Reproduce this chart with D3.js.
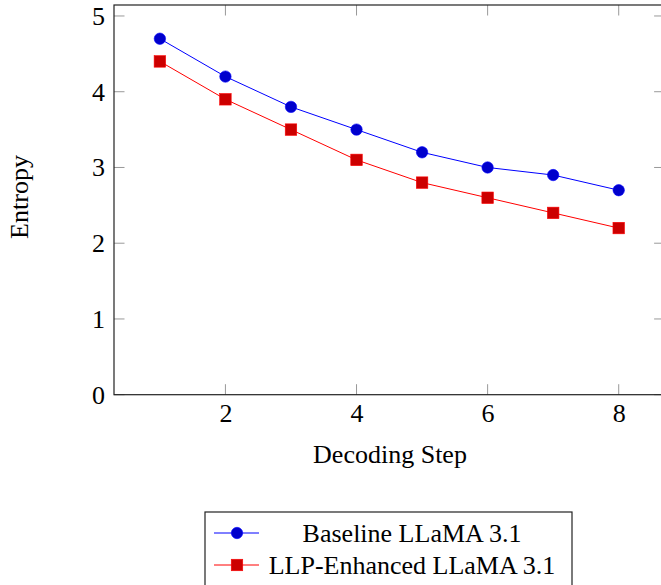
<!DOCTYPE html>
<html><head><meta charset="utf-8">
<script src="https://cdn.jsdelivr.net/npm/d3@7"></script>
<style>body{margin:0;background:#fff}svg{display:block}</style>
</head><body>
<script>
const steps = [1,2,3,4,5,6,7,8];
const baseline = [4.7,4.2,3.8,3.5,3.2,3.0,2.9,2.7];
const enhanced = [4.4,3.9,3.5,3.1,2.8,2.6,2.4,2.2];
const xTicks = [2,4,6,8];
const yTicks = [0,1,2,3,4,5];
const seriesNames = ["Baseline LLaMA 3.1","LLP-Enhanced LLaMA 3.1"];

const FF="Liberation Serif";
const FS=26;
const W=661,H=585;
const L=114,R=664.6,T=5,B=394.7;
const svg=d3.select("body").append("svg").attr("width",W).attr("height",H).attr("font-family",FF);
const x=d3.scaleLinear().domain([0.3,8.7]).range([L,R]);
const y=d3.scaleLinear().domain([0,5.145]).range([B,T]);
const tl=10.5;
const tc="#999";
const g=svg.append("g");
xTicks.forEach(v=>{
  g.append("line").attr("x1",x(v)).attr("x2",x(v)).attr("y1",B).attr("y2",B-tl).attr("stroke",tc).attr("stroke-width",1);
  g.append("line").attr("x1",x(v)).attr("x2",x(v)).attr("y1",T).attr("y2",T+tl).attr("stroke",tc).attr("stroke-width",1);
});
yTicks.forEach(v=>{
  g.append("line").attr("y1",y(v)).attr("y2",y(v)).attr("x1",L).attr("x2",L+tl).attr("stroke",tc).attr("stroke-width",1);
  g.append("line").attr("y1",y(v)).attr("y2",y(v)).attr("x1",R).attr("x2",R-tl).attr("stroke",tc).attr("stroke-width",1);
});
const xa=svg.append("g").attr("transform",`translate(0,${B})`).call(d3.axisBottom(x).tickValues(xTicks).tickSize(0).tickPadding(8.5).tickFormat(d3.format("d")));
xa.attr("font-family",FF).attr("font-size",FS);
xa.select(".domain").remove();
xa.selectAll("text").attr("fill","#000");
const ya=svg.append("g").attr("transform",`translate(${L},0)`).call(d3.axisLeft(y).tickValues(yTicks).tickSize(0).tickPadding(9).tickFormat(d3.format("d")));
ya.attr("font-family",FF).attr("font-size",FS);
ya.select(".domain").remove();
ya.selectAll("text").attr("fill","#000");
svg.append("rect").attr("x",L).attr("y",T).attr("width",R-L).attr("height",B-T).attr("fill","none").attr("stroke","#222").attr("stroke-width",1.2);
svg.append("text").attr("x",390).attr("y",463).attr("text-anchor","middle").attr("font-size",FS).attr("font-family",FF).text("Decoding Step");
svg.append("text").attr("transform",`translate(28,197) rotate(-90)`).attr("text-anchor","middle").attr("font-size",FS).attr("font-family",FF).text("Entropy");
const line=d3.line().x((d,i)=>x(steps[i])).y(d=>y(d));
svg.append("path").datum(baseline).attr("d",line).attr("fill","none").attr("stroke","#0000ff").attr("stroke-width",1);
svg.append("path").datum(enhanced).attr("d",line).attr("fill","none").attr("stroke","#ff0000").attr("stroke-width",1);
svg.selectAll("circle.b").data(baseline).enter().append("circle").attr("cx",(d,i)=>x(steps[i])).attr("cy",d=>y(d)).attr("r",5.7).attr("fill","#0000cc").attr("stroke","#0000ff").attr("stroke-width",0.6);
const s=11.5;
svg.selectAll("rect.r").data(enhanced).enter().append("rect").attr("x",(d,i)=>x(steps[i])-s/2).attr("y",d=>y(d)-s/2).attr("width",s).attr("height",s).attr("fill","#cc0000").attr("stroke","#ff0000").attr("stroke-width",0.6);
const lg=svg.append("g");
lg.append("rect").attr("x",205).attr("y",512).attr("width",367).attr("height",90).attr("fill","#fff").attr("stroke","#222").attr("stroke-width",1.2);
const rows=[533,565];
lg.append("line").attr("x1",214).attr("x2",259).attr("y1",rows[0]).attr("y2",rows[0]).attr("stroke","#0000ff");
lg.append("circle").attr("cx",237).attr("cy",rows[0]).attr("r",5.7).attr("fill","#0000cc").attr("stroke","#0000ff").attr("stroke-width",0.6);
lg.append("line").attr("x1",214).attr("x2",259).attr("y1",rows[1]).attr("y2",rows[1]).attr("stroke","#ff0000");
lg.append("rect").attr("x",237-s/2).attr("y",rows[1]-s/2).attr("width",s).attr("height",s).attr("fill","#cc0000").attr("stroke","#ff0000").attr("stroke-width",0.6);
seriesNames.forEach((n,i)=>lg.append("text").attr("x",412).attr("y",rows[i]).attr("dy","0.35em").attr("text-anchor","middle").attr("font-size",FS).attr("font-family",FF).text(n));
</script>
</body></html>
